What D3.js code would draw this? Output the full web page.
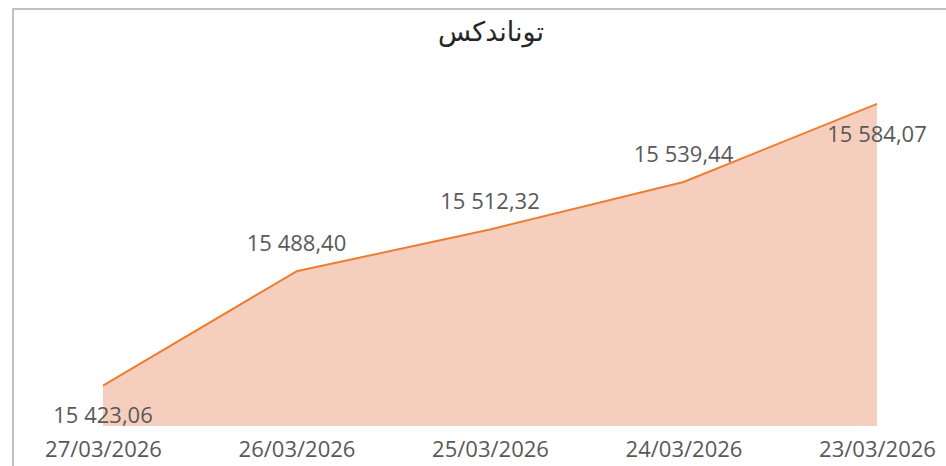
<!DOCTYPE html>
<html>
<head>
<meta charset="utf-8">
<script src="https://cdn.jsdelivr.net/npm/d3@7"></script>
<style>
  html, body { margin: 0; padding: 0; background: #fff; }
  svg { display: block; }
</style>
</head>
<body>
<svg id="chart"></svg>
<script>
// Data
const title = "توناندكس";
const dates = ["27/03/2026", "26/03/2026", "25/03/2026", "24/03/2026", "23/03/2026"];
const values = [15423.06, 15488.40, 15512.32, 15539.44, 15584.07];
const yDomain = [15400, 15600];

// Sizes
const width = 946;
const height = 466;
const plotLeft = 103;
const plotRight = 877;
const plotTop = 76;
const plotBottom = 426;

const fmt = v => {
    const [i, d] = v.toFixed(2).split(".");
    return i.replace(/\B(?=(\d{3})+(?!\d))/g, " ") + "," + d;
};

const svg = d3.select("#chart")
    .attr("width", width)
    .attr("height", height)
    .attr("viewBox", [0, 0, width, height])
    .style("font-family", "'Open Sans', 'Noto Sans', sans-serif");

// chart border (only top and left visible in the crop)
svg.append("rect")
    .attr("x", 13)
    .attr("y", 9)
    .attr("width", width + 20)
    .attr("height", height + 20)
    .attr("fill", "none")
    .attr("stroke", "#c0c0c0")
    .attr("stroke-width", 2);

const x = d3.scalePoint()
    .domain(dates)
    .range([plotLeft, plotRight]);

const y = d3.scaleLinear()
    .domain(yDomain)
    .range([plotBottom, plotTop]);

const data = dates.map((d, i) => ({ date: d, value: values[i] }));

// Area
svg.append("path")
    .datum(data)
    .attr("fill", "#f6cebe")
    .attr("d", d3.area()
        .x(d => x(d.date))
        .y0(plotBottom)
        .y1(d => y(d.value)));

// Line
svg.append("path")
    .datum(data)
    .attr("fill", "none")
    .attr("stroke", "#ed7d31")
    .attr("stroke-width", 2)
    .attr("stroke-linejoin", "round")
    .attr("d", d3.line()
        .x(d => x(d.date))
        .y(d => y(d.value)));

// X axis
svg.append("g")
    .attr("transform", `translate(0,${plotBottom})`)
    .call(d3.axisBottom(x).tickSize(0).tickPadding(10))
    .call(g => g.select(".domain").remove())
    .selectAll("text")
      .attr("fill", "#595959")
      .attr("dy", "0.95em")
      .style("font-size", "22px")
      .style("font-family", "'Open Sans', 'Noto Sans', sans-serif");

// Data labels: first and last sit below the point, the others above
svg.append("g")
    .selectAll("text")
    .data(data)
    .join("text")
      .attr("x", d => x(d.date))
      .attr("y", (d, i) => (i === 0 || i === data.length - 1) ? y(d.value) + 30 : y(d.value) - 28)
      .attr("dy", "0.35em")
      .attr("text-anchor", "middle")
      .attr("fill", "#595959")
      .style("font-size", "22px")
      .text(d => fmt(d.value));

// Title
svg.append("text")
    .attr("x", 491)
    .attr("y", 32)
    .attr("dy", "0.35em")
    .attr("text-anchor", "middle")
    .attr("fill", "#262626")
    .style("font-size", "27px")
    .style("font-family", "'DejaVu Sans', sans-serif")
    .text(title);
</script>
</body>
</html>
